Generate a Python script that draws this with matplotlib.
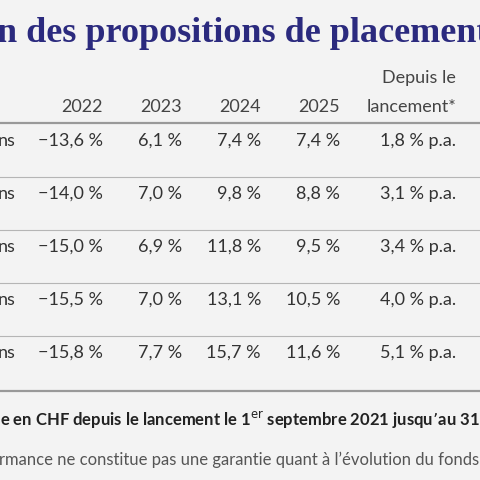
import matplotlib
matplotlib.use("Agg")
import matplotlib.pyplot as plt
from matplotlib.lines import Line2D

# --- table data ---
years = ["2022", "2023", "2024", "2025"]
row_labels = ["ns", "ns", "ns", "ns", "ns"]
r2022 = ["−13,6 %", "−14,0 %", "−15,0 %", "−15,5 %", "−15,8 %"]
r2023 = ["6,1 %", "7,0 %", "6,9 %", "7,0 %", "7,7 %"]
r2024 = ["7,4 %", "9,8 %", "11,8 %", "13,1 %", "15,7 %"]
r2025 = ["7,4 %", "8,8 %", "9,5 %", "10,5 %", "11,6 %"]
since_launch = ["1,8 % p.a.", "3,1 % p.a.", "3,4 % p.a.", "4,0 % p.a.", "5,1 % p.a."]

W = H = 480
BG = "#f3f3f3"
TXT = "#333333"
NAVY = "#2b2a7e"

fig = plt.figure(figsize=(4.8, 4.8), dpi=100, facecolor=BG)

def px(x, y):
    return x / W, 1 - y / H

def put(x, y, s, ha="right", size=13, color=TXT, weight="normal", family="Lato"):
    fig.text(*px(x, y), s, ha=ha, va="center", fontsize=size, color=color,
             fontweight=weight, family=family)

def hline(y, lw, color):
    fig.add_artist(Line2D([0, 1], [1 - y / H] * 2, transform=fig.transFigure,
                          lw=lw, color=color))

# title (cropped on both sides, as in the source)
put(-3, 34, "n des propositions de placement", ha="left", size=26,
    color=NAVY, weight="bold", family="Liberation Serif")

# header
col_x = [103, 182, 261, 340]
for x, yr in zip(col_x, years):
    put(x, 107, yr, color="#444444")
put(456, 78, "Depuis le", color="#444444")
put(456, 107, "lancement*", color="#444444")
hline(123, 1.6, "#999999")

# rows
row_y = [141, 194, 247, 300, 353]
cols = [r2022, r2023, r2024, r2025]
for i, y in enumerate(row_y):
    put(16, y, row_labels[i])
    for x, c in zip(col_x, cols):
        put(x, y, c[i])
    put(456, y, since_launch[i])
    if i < len(row_y) - 1:
        hline(y + 36, 0.8, "#b5b5b5")
hline(391, 1.6, "#999999")

# footnotes
put(0, 420, r"e en CHF depuis le lancement le 1$^{\mathrm{er}}$ septembre 2021 jusqu’au 31 décembre",
    ha="left", size=12, color="#222222", weight="bold")
put(-1, 460, "rmance ne constitue pas une garantie quant à l’évolution du fonds.",
    ha="left", size=12, color="#555555")

fig.savefig("out.png", dpi=100, facecolor=BG)
